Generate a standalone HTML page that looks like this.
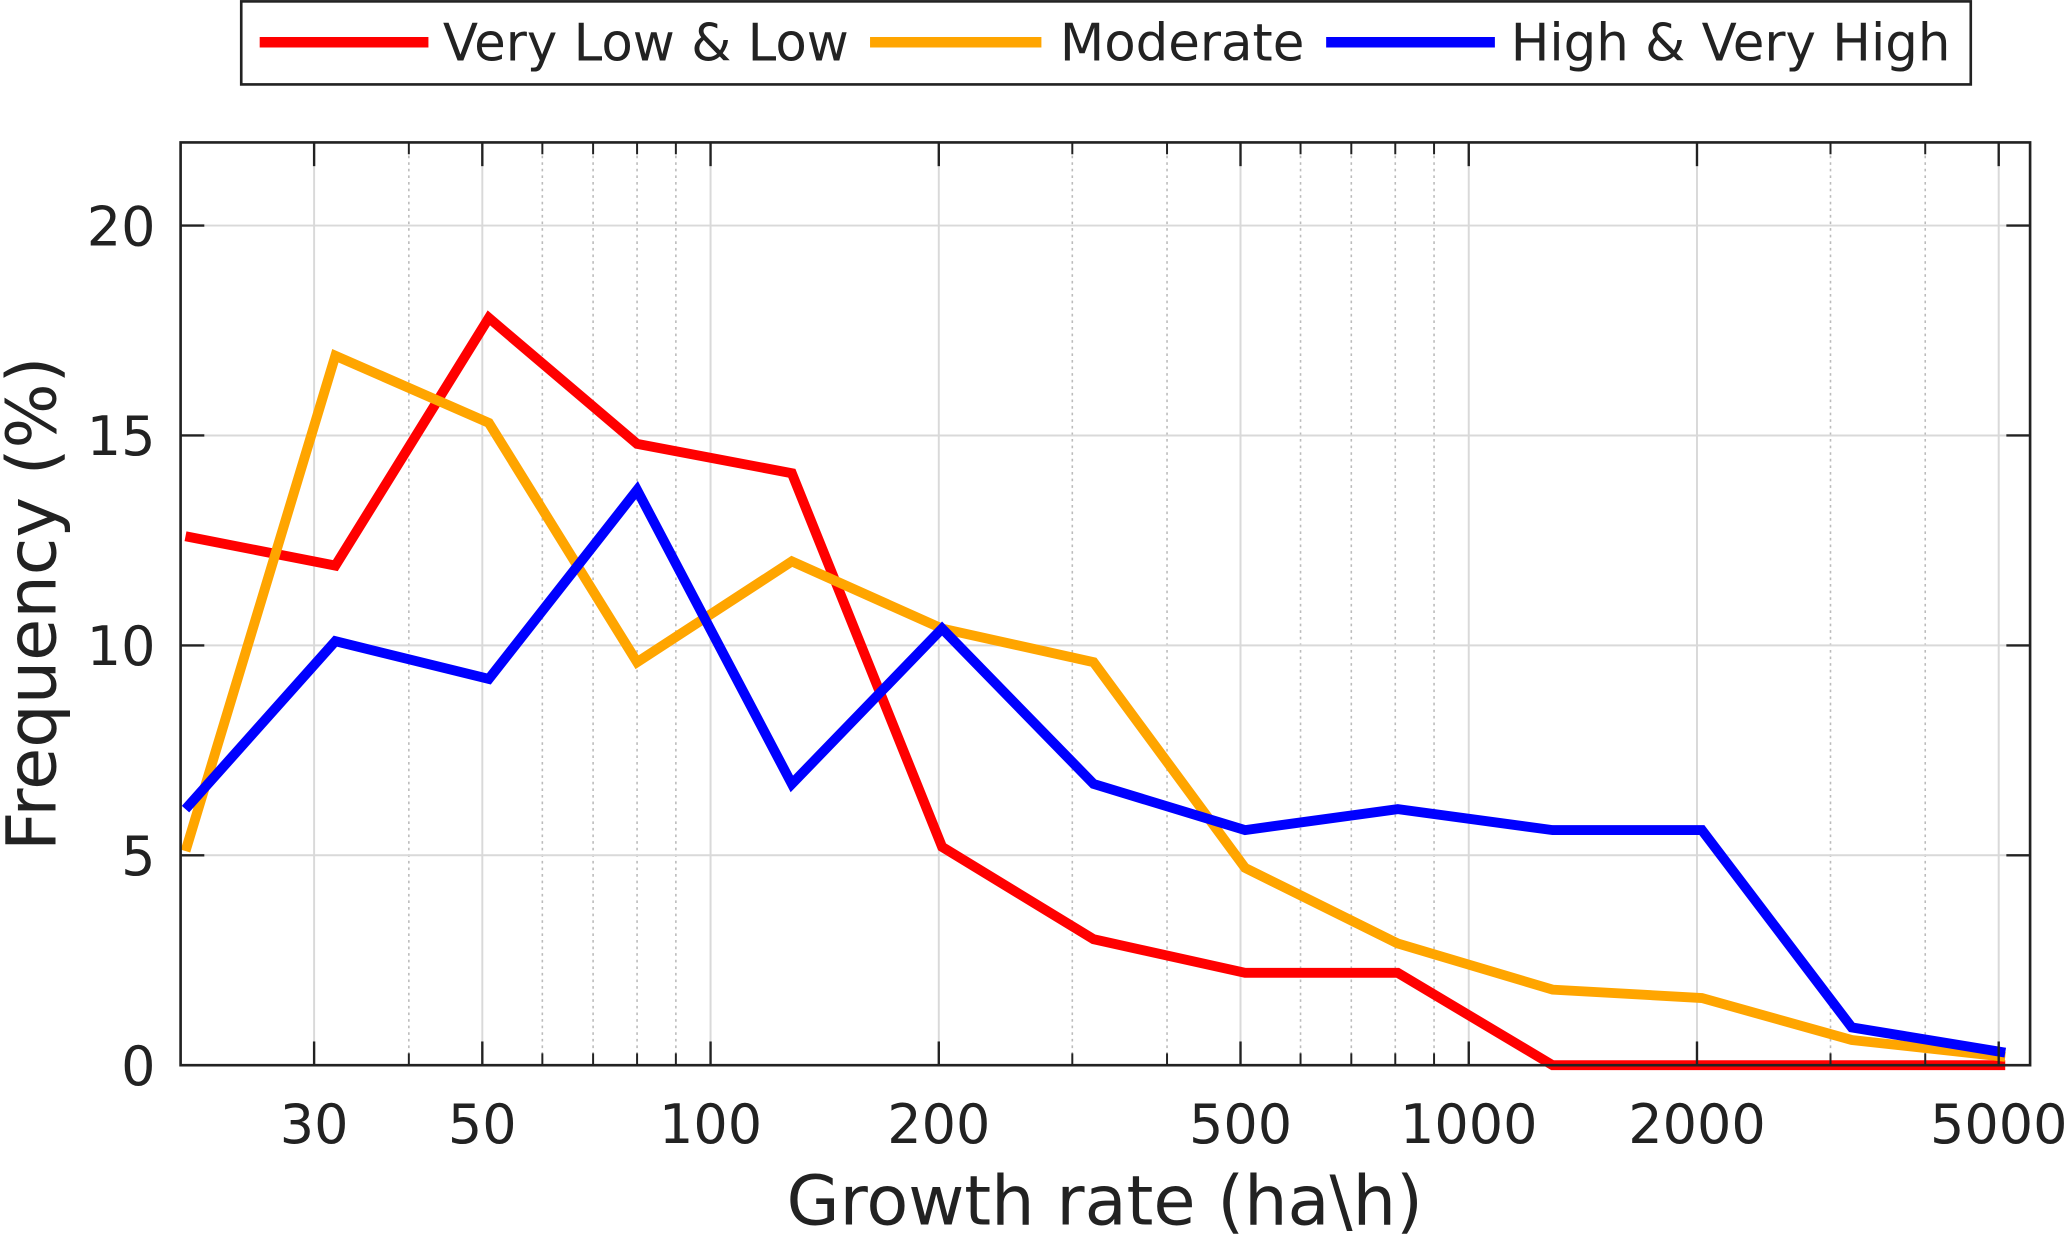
<!DOCTYPE html>
<html><head><meta charset="utf-8"><style>
html,body{margin:0;padding:0;background:#fff;}
svg{display:block;font-family:"DejaVu Sans","Liberation Sans",sans-serif;}
</style></head><body>
<svg id="chart" width="2067" height="1234" viewBox="0 0 1568 936" xmlns="http://www.w3.org/2000/svg">
<g id="grid"></g>
<g id="series"></g>
<g id="axes"></g>
<text x="838" y="929" font-size="52" text-anchor="middle" fill="#222">Growth rate (ha\h)</text>
<text transform="translate(42,458) rotate(-90)" font-size="52" text-anchor="middle" fill="#222">Frequency (%)</text>
<g>
<rect x="183" y="1" width="1312" height="63" fill="#fff" stroke="#222" stroke-width="2"/>
<g><line x1="197" y1="32" x2="325" y2="32" stroke="#ff0000" stroke-width="8"/><text x="336" y="46" font-size="39" fill="#222">Very Low &amp; Low</text></g>
<g><line x1="660" y1="32" x2="790" y2="32" stroke="#ffa500" stroke-width="8"/><text x="804" y="46" font-size="39" fill="#222">Moderate</text></g>
<g><line x1="1006" y1="32" x2="1134" y2="32" stroke="#0000ff" stroke-width="8"/><text x="1146" y="46" font-size="39" fill="#222">High &amp; Very High</text></g>
</g>
</svg>
<script>
const xValues = [20.3, 32, 51, 80, 128, 202, 320, 507, 806, 1290, 2030, 3200, 5100];
const lowSeries = [12.6, 11.9, 17.8, 14.8, 14.1, 5.2, 3.0, 2.2, 2.2, 0, 0, 0, 0];
const moderateSeries = [5.1, 16.9, 15.3, 9.6, 12.0, 10.4, 9.6, 4.7, 2.9, 1.8, 1.6, 0.6, 0.2];
const highSeries = [6.1, 10.1, 9.2, 13.7, 6.7, 10.4, 6.7, 5.6, 6.1, 5.6, 5.6, 0.9, 0.3];
const xMajorTicks = [30, 50, 100, 200, 500, 1000, 2000, 5000];
const xMinorTicks = [40, 60, 70, 80, 90, 300, 400, 600, 700, 800, 900, 3000, 4000];
const yTicks = [0, 5, 10, 15, 20];

const L=137,R=1540,T=108,B=808;
const xMin=Math.log10(20), xMax=Math.log10(5500), yMax=21.98;
const sx=v=>L+(Math.log10(v)-xMin)/(xMax-xMin)*(R-L);
const sy=v=>B-v/yMax*(B-T);
const NS="http://www.w3.org/2000/svg";
function mk(tag,attrs,parent){const e=document.createElementNS(NS,tag);for(const k in attrs)e.setAttribute(k,attrs[k]);parent.appendChild(e);return e;}
const grid=document.getElementById('grid'),axes=document.getElementById('axes'),series=document.getElementById('series');
xMinorTicks.forEach(v=>{const x=sx(v);
 const g=mk('line',{x1:x,x2:x,y1:T,y2:B,stroke:'#bbb','stroke-width':1.2,'stroke-dasharray':'2 3'},grid);
 
 
 mk('line',{x1:x,x2:x,y1:B,y2:B-9,stroke:'#222','stroke-width':1.5},axes);
 mk('line',{x1:x,x2:x,y1:T,y2:T+9,stroke:'#222','stroke-width':1.5},axes);});
xMajorTicks.forEach(v=>{const x=sx(v);
 const g=mk('line',{x1:x,x2:x,y1:T,y2:B,stroke:'#d9d9d9','stroke-width':1.5},grid);
 
 
 mk('line',{x1:x,x2:x,y1:B,y2:B-18,stroke:'#222','stroke-width':1.8},axes);
 mk('line',{x1:x,x2:x,y1:T,y2:T+18,stroke:'#222','stroke-width':1.8},axes);
 const t=mk('text',{x:x,y:867,'font-size':41,'text-anchor':'middle',fill:'#222'},axes);t.textContent=v;
 
 });
yTicks.forEach(v=>{const y=sy(v);
 if(v>0){const g=mk('line',{x1:L,x2:R,y1:y,y2:y,stroke:'#d9d9d9','stroke-width':1.5},grid);
 
 }
 mk('line',{x1:L,x2:L+18,y1:y,y2:y,stroke:'#222','stroke-width':1.8},axes);
 mk('line',{x1:R,x2:R-18,y1:y,y2:y,stroke:'#222','stroke-width':1.8},axes);
 const t=mk('text',{x:118,y:y+15,'font-size':41,'text-anchor':'end',fill:'#222'},axes);t.textContent=v;
 
 });
mk('rect',{x:L,y:T,width:R-L,height:B-T,fill:'none',stroke:'#222','stroke-width':2},axes);
[[lowSeries,'#ff0000','line-very-low-low'],[moderateSeries,'#ffa500','line-moderate'],[highSeries,'#0000ff','line-high-very-high']].forEach(([d,c,n])=>{
 const p=mk('polyline',{points:d.map((v,i)=>sx(xValues[i])+','+sy(v)).join(' '),fill:'none',stroke:c,'stroke-width':7.5,'stroke-linejoin':'miter'},series);
 
 });
</script>
</body></html>
